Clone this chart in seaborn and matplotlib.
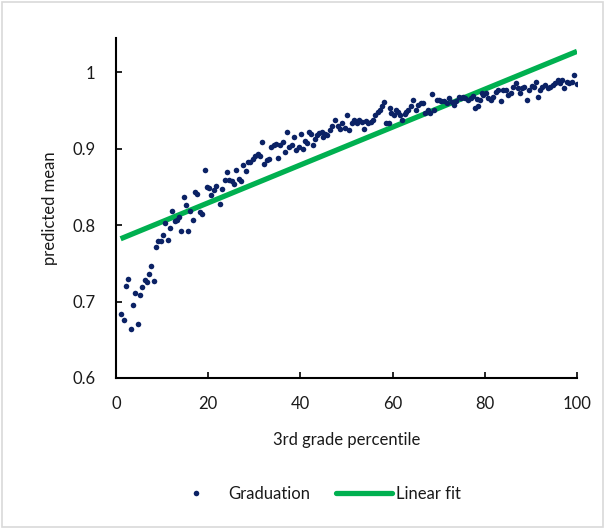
import matplotlib
matplotlib.use("Agg")
import matplotlib.pyplot as plt
import seaborn as sns
import pandas as pd
from matplotlib.patches import Rectangle
from matplotlib.lines import Line2D

percentile = [
    1.1, 1.7, 2.2, 2.7, 3.2, 3.7, 4.2, 4.7, 5.2, 5.7, 6.2, 6.7, 7.2, 7.7, 8.2, 8.7,
    9.2, 9.7, 10.2, 10.7, 11.2, 11.7, 12.1, 12.7, 13.2, 13.7, 14.2, 14.7, 15.1, 15.7,
    16.1, 16.6, 17.1, 17.6, 18.2, 18.7, 19.2, 19.7, 20.2, 20.6, 21.3, 21.8, 22.5, 23.1,
    23.6, 24.1, 24.6, 25.1, 25.5, 26.1, 26.6, 27.1, 27.6, 28.1, 28.6, 29.1, 29.7, 30.2,
    30.7, 31.2, 31.7, 32.2, 32.7, 33.2, 33.7, 34.2, 34.6, 35.1, 35.6, 36.2, 36.7, 37.1,
    37.6, 38.1, 38.6, 39.1, 39.6, 40.1, 40.6, 41.1, 41.5, 41.9, 42.3, 42.8, 43.2, 43.5,
    44.0, 44.6, 45.0, 45.3, 45.8, 46.4, 46.9, 47.5, 48.1, 48.6, 49.1, 49.7, 50.0, 50.5,
    51.1, 51.7, 52.2, 52.7, 53.3, 53.8, 54.3, 54.7, 55.3, 55.8, 56.2, 56.8, 57.3, 57.8,
    58.1, 58.6, 59.2, 59.4, 59.7, 60.2, 60.7, 61.1, 61.6, 62.1, 62.6, 63.0, 63.4, 64.0,
    64.5, 65.0, 65.6, 66.1, 66.6, 67.0, 67.6, 68.1, 68.5, 69.0, 69.6, 70.1, 70.6, 71.1,
    71.7, 72.2, 72.8, 73.3, 73.8, 74.3, 74.8, 75.3, 75.8, 76.4, 77.0, 77.4, 77.9, 78.2,
    78.5, 79.0, 79.3, 79.7, 80.2, 80.8, 81.3, 81.8, 82.4, 82.9, 83.5, 84.0, 84.5, 85.1,
    85.6, 86.2, 86.7, 87.1, 87.6, 88.1, 88.6, 89.1, 89.6, 90.2, 90.7, 91.0, 91.5, 92.0,
    92.5, 93.1, 93.7, 94.2, 94.7, 95.2, 95.8, 96.3, 96.8, 97.2, 97.8, 98.3, 98.9, 99.4,
    99.9,
]
graduation = [
    0.684, 0.676, 0.720, 0.729, 0.664, 0.695, 0.711, 0.671, 0.708, 0.719, 0.728, 0.725, 0.736, 0.747, 0.727, 0.771,
    0.779, 0.779, 0.787, 0.803, 0.780, 0.796, 0.818, 0.805, 0.807, 0.810, 0.792, 0.837, 0.826, 0.792,
    0.818, 0.806, 0.843, 0.841, 0.817, 0.814, 0.872, 0.850, 0.849, 0.839, 0.846, 0.851, 0.827, 0.847,
    0.859, 0.869, 0.859, 0.858, 0.854, 0.872, 0.860, 0.858, 0.878, 0.870, 0.882, 0.883, 0.886, 0.890,
    0.893, 0.890, 0.908, 0.880, 0.885, 0.886, 0.902, 0.904, 0.906, 0.887, 0.905, 0.908, 0.896, 0.921,
    0.902, 0.905, 0.915, 0.898, 0.902, 0.919, 0.900, 0.910, 0.907, 0.921, 0.919, 0.905, 0.912, 0.918,
    0.920, 0.921, 0.915, 0.919, 0.918, 0.924, 0.929, 0.937, 0.929, 0.926, 0.934, 0.927, 0.944, 0.924,
    0.933, 0.937, 0.933, 0.937, 0.935, 0.926, 0.936, 0.934, 0.935, 0.937, 0.944, 0.948, 0.951, 0.955,
    0.961, 0.934, 0.934, 0.953, 0.946, 0.944, 0.950, 0.948, 0.944, 0.937, 0.945, 0.948, 0.950, 0.955,
    0.963, 0.950, 0.957, 0.959, 0.960, 0.946, 0.950, 0.947, 0.971, 0.950, 0.964, 0.963, 0.962, 0.962,
    0.959, 0.966, 0.961, 0.957, 0.962, 0.968, 0.966, 0.968, 0.966, 0.964, 0.966, 0.969, 0.953, 0.965,
    0.955, 0.964, 0.973, 0.970, 0.972, 0.966, 0.963, 0.968, 0.974, 0.976, 0.962, 0.977, 0.976, 0.970,
    0.973, 0.980, 0.985, 0.979, 0.972, 0.979, 0.981, 0.964, 0.976, 0.982, 0.981, 0.987, 0.968, 0.976,
    0.980, 0.983, 0.979, 0.981, 0.983, 0.985, 0.989, 0.985, 0.990, 0.979, 0.987, 0.985, 0.987, 0.996,
    0.984,
]
fit_x = [1, 100]
fit_y = [0.782, 1.027]

x_ticks = [0, 20, 40, 60, 80, 100]
y_ticks = [0.6, 0.7, 0.8, 0.9, 1.0]
y_tick_labels = ["0.6", "0.7", "0.8", "0.9", "1"]

sns.set_theme(style="white")
plt.rcParams["font.family"] = ["Lato", "DejaVu Sans"]

navy = "#0B2265"
green = "#00B050"
txt = "#1a1a1a"
fs = 12

fig = plt.figure(figsize=(6.05, 5.29), dpi=100)
ax = fig.add_axes([116 / 605, 1 - 378 / 529, (577 - 116) / 605, (378 - 37.6) / 529])

df = pd.DataFrame({"percentile": percentile, "graduation": graduation})
fit_df = pd.DataFrame({"percentile": fit_x, "fit": fit_y})

sns.lineplot(data=fit_df, x="percentile", y="fit", ax=ax, color=green,
             linewidth=3.8, solid_capstyle="butt", zorder=2)
sns.scatterplot(data=df, x="percentile", y="graduation", ax=ax, color=navy,
                s=16, linewidth=0, zorder=3)

ax.set_xlim(0, 100)
ax.set_ylim(0.6, 1.045)
ax.set_xticks(x_ticks)
ax.set_yticks(y_ticks)
ax.set_yticklabels(y_tick_labels)
ax.tick_params(direction="in", length=4, width=1.2, color="black",
               labelsize=fs, labelcolor=txt, bottom=True, left=True)
ax.tick_params(axis="y", pad=15)
ax.tick_params(axis="x", pad=13)
for side in ["top", "right"]:
    ax.spines[side].set_visible(False)
for side in ["left", "bottom"]:
    ax.spines[side].set_color("black")
    ax.spines[side].set_linewidth(1.5)

ax.set_xlabel("3rd grade percentile", fontsize=fs, color=txt, labelpad=14)
ax.set_ylabel("predicted mean", fontsize=fs, color=txt, labelpad=10)

handles = [
    Line2D([], [], marker="o", linestyle="none", color=navy, markersize=4, markeredgewidth=0),
    Line2D([], [], color=green, linewidth=3.8, solid_capstyle="round"),
]
fig.legend(handles, ["Graduation", "Linear fit"], loc="center",
           bbox_to_anchor=(0.52, 1 - 494 / 529), ncol=2, frameon=False,
           fontsize=fs, handlelength=3.4, handletextpad=0.25, columnspacing=1.5,
           labelcolor=txt)

fig.patches.append(Rectangle((0.0025, 0.003), 0.995, 0.994, transform=fig.transFigure,
                             fill=False, edgecolor="#d9d9d9", linewidth=1.2))

fig.savefig("out.png", dpi=100)
